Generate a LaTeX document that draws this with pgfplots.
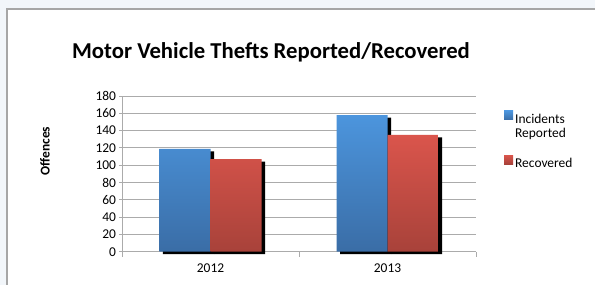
\documentclass[border=0pt]{standalone}
\usepackage{pgfplots}
\pgfplotsset{compat=1.18}
\usepackage{fontspec}
\setmainfont{Carlito}
\definecolor{bgout}{HTML}{F2F6FA}
\definecolor{frame}{HTML}{A6A6A6}
\definecolor{gridc}{HTML}{ABABAB}
\definecolor{blueT}{HTML}{4C95DD}
\definecolor{blueB}{HTML}{3A6DA6}
\definecolor{redT}{HTML}{DA554C}
\definecolor{redB}{HTML}{A8423A}
\begin{document}
\begin{tikzpicture}
\useasboundingbox (0,0) rectangle (595bp,285bp);
\fill[bgout] (0,0) rectangle (595bp,285bp);
\fill[white] (7bp,-2bp) rectangle (597bp,276bp);
\draw[frame,line width=1.5bp] (7bp,-3bp) -- (7bp,276bp) -- (598bp,276bp);
\begin{axis}[
  at={(122bp,33.3bp)}, anchor=south west,
  scale only axis, width=354bp, height=155.7bp,
  xmin=-0.5, xmax=1.5, ymin=0, ymax=180,
  clip=false,
  ytick={0,20,...,180},
  xtick={0,1}, xticklabels={2012,2013},
  minor xtick={-0.5,0.5,1.5},
  major x tick style={draw=none},
  tick align=outside,
  major tick length=5bp, minor tick length=5bp,
  every tick/.style={draw=gridc, line width=0.8bp},
  axis lines=left,
  axis line style={draw=gridc, line width=0.8bp, -},
  ymajorgrids, grid style={draw=gridc, line width=0.8bp},
  /pgf/number format/assume math mode=true,
  tick label style={font=\fontsize{13.5}{16}\selectfont},
  xticklabel style={yshift=-4bp},
  title={\fontsize{22.8}{27}\selectfont\textbf{Motor Vehicle Thefts Reported/Recovered}},
  title style={at={(axis description cs:0.421,1.24)}, anchor=center},
  ybar=0pt, bar width=51bp,
  legend style={draw=none, fill=none, at={(axis description cs:1.079,0.905)}, anchor=north west,
    font=\fontsize{13.5}{16}\selectfont, row sep=0bp, inner sep=0pt,
    nodes={text depth=, text height=},
    /tikz/every even column/.style={column sep=3bp}},
  legend cell align=left,
]
\addplot[forget plot, bar shift=-25.5bp, draw=none, top color=blueT, bottom color=blueB,
  preaction={top color=black, bottom color=black, transform canvas={shift={(3.5bp,-2.5bp)}}}]
  coordinates {(0,119) (1,158)};
\addplot[forget plot, bar shift=25.5bp, draw=none, top color=redT, bottom color=redB,
  preaction={top color=black, bottom color=black, transform canvas={shift={(3.5bp,-2.5bp)}}}]
  coordinates {(0,107) (1,135)};
\addlegendimage{legend image code/.code={\path[draw=none, top color=blueT, bottom color=blueB] (0bp,-1bp) rectangle (9bp,8bp);}}
\addlegendentry{Incidents}
\addlegendimage{empty legend}
\addlegendentry{Reported\rule[-16bp]{0pt}{16bp}}
\addlegendimage{legend image code/.code={\path[draw=none, top color=redT, bottom color=redB] (0bp,-1bp) rectangle (9bp,8bp);}}
\addlegendentry{Recovered}
\end{axis}
\node[rotate=90, font=\fontsize{13.5}{16}\selectfont\bfseries] at (45bp,134bp) {Offences};
\end{tikzpicture}
\end{document}
